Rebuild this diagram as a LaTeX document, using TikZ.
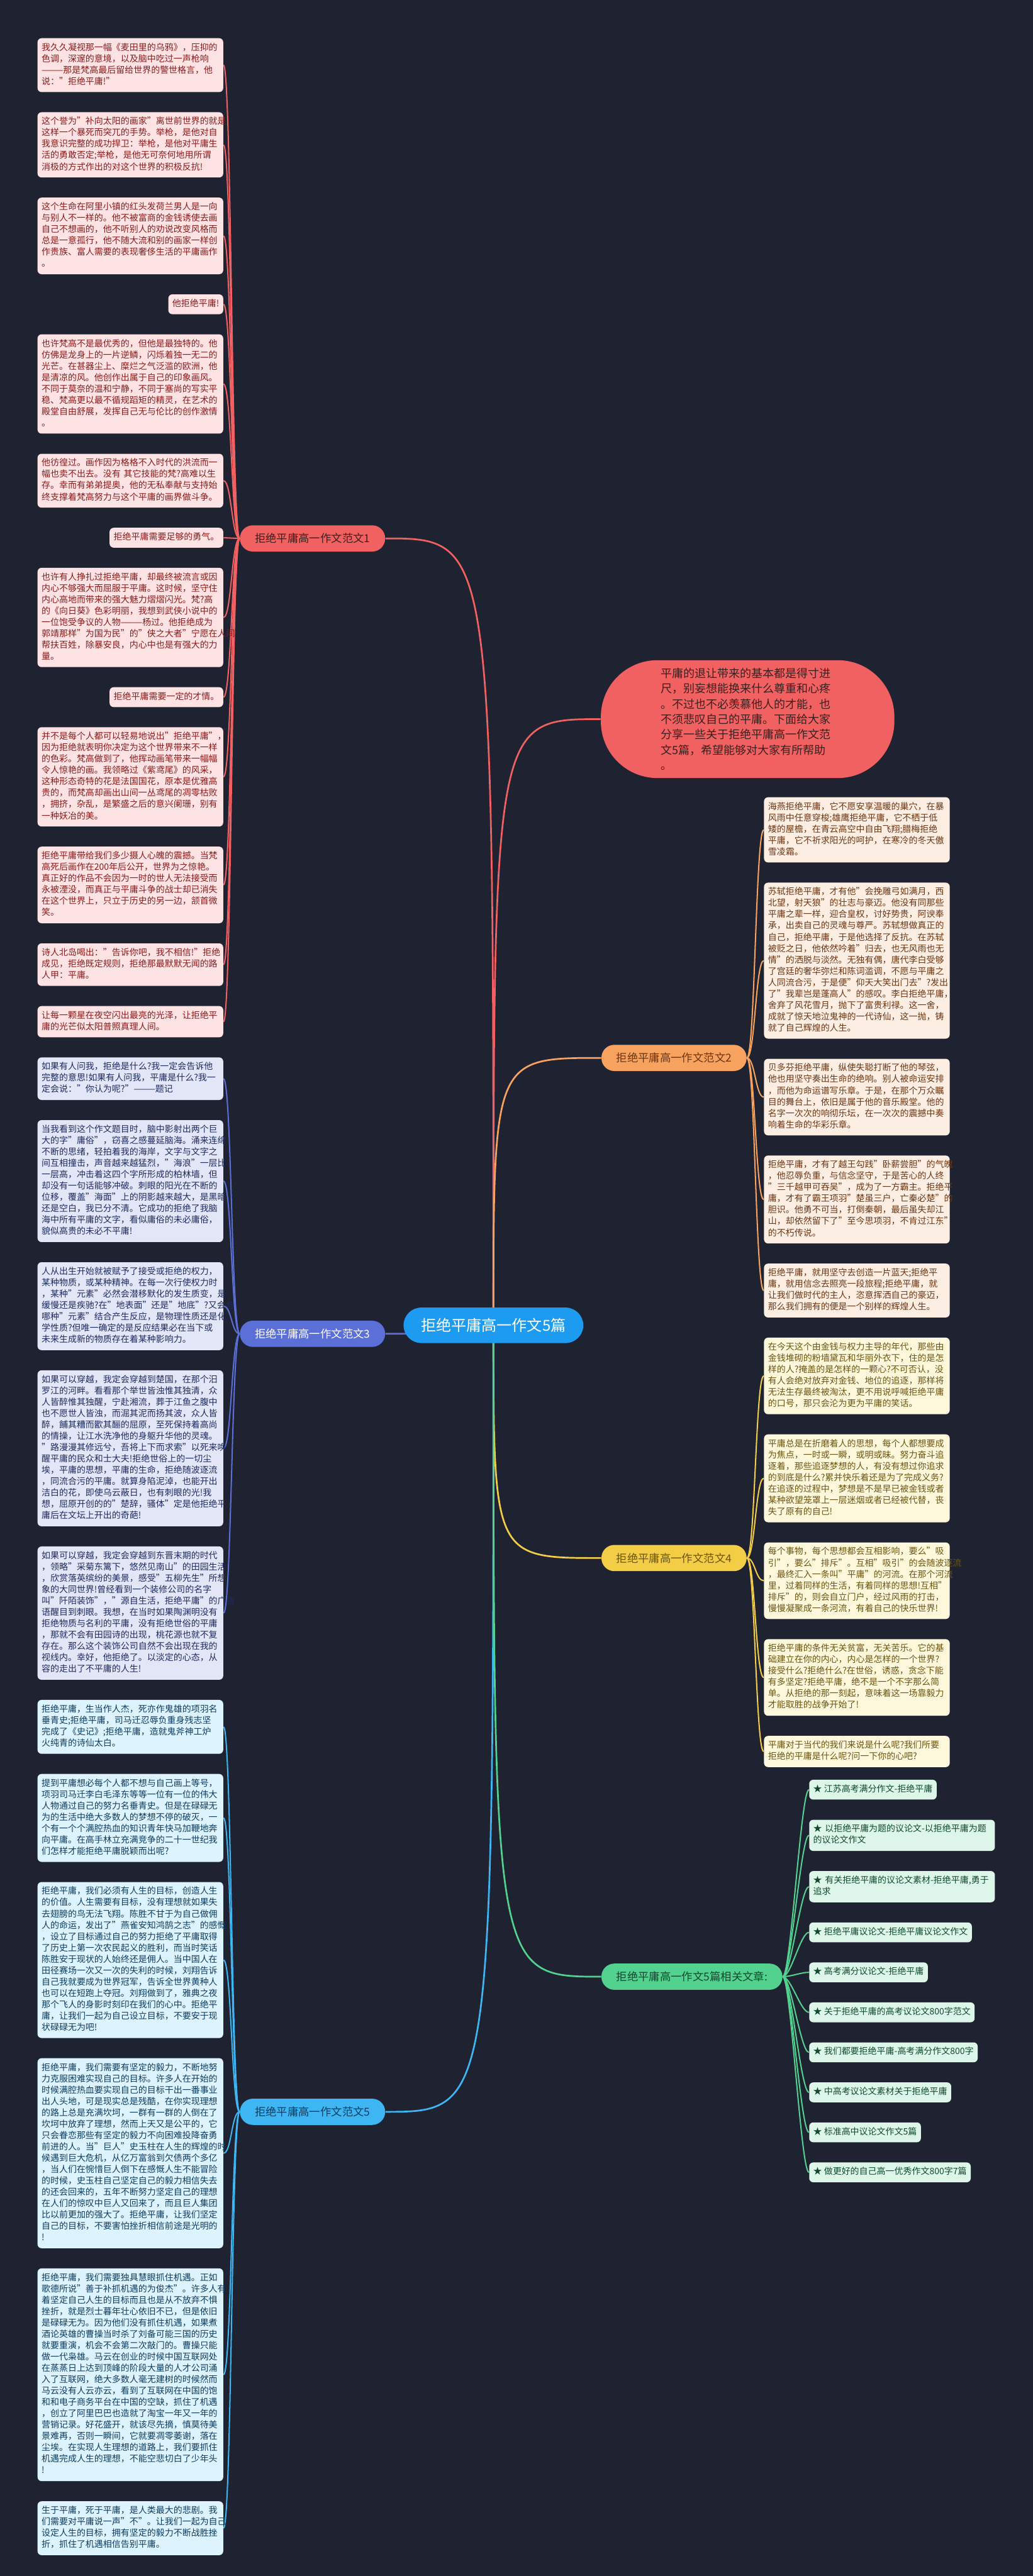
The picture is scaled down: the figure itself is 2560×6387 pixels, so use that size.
\documentclass[tikz,border=0pt]{standalone}
\usepackage{fontspec}
\setmainfont{Noto Sans CJK SC}
\usetikzlibrary{positioning}
\definecolor{bgc}{HTML}{1F2331}
\definecolor{rootc}{HTML}{1D9BF0}
\definecolor{c1}{HTML}{F26161}\definecolor{f1}{HTML}{FDE3E3}\definecolor{t1}{HTML}{8A1C1C}
\definecolor{c2}{HTML}{F7A25E}\definecolor{f2}{HTML}{FDEEE3}\definecolor{t2}{HTML}{6B3612}
\definecolor{c3}{HTML}{5B6FD6}\definecolor{f3}{HTML}{E3E6F7}\definecolor{t3}{HTML}{1E2B5E}
\definecolor{c4}{HTML}{F3CD46}\definecolor{f4}{HTML}{FDF7DB}\definecolor{t4}{HTML}{6B5510}
\definecolor{c5}{HTML}{3DB6F3}\definecolor{f5}{HTML}{DDF3FD}\definecolor{t5}{HTML}{0E3D5F}
\definecolor{c6}{HTML}{52D18F}\definecolor{f6}{HTML}{DEF6EA}\definecolor{t6}{HTML}{0F4A2D}
\definecolor{dark}{HTML}{3A2020}
\pgfdeclarelayer{back}
\pgfsetlayers{back,main}
\tikzstyle{leaf}=[rectangle,rounded corners=0.1cm,align=left,text width=4.4cm,inner xsep=0.1cm,inner ysep=3pt,font=\fontsize{6.2pt}{8pt}\selectfont,execute at begin node={\noindent\strut},execute at end node=\strut]
\tikzstyle{tip}=[rectangle,rounded corners=0.1cm,inner xsep=0.1cm,inner ysep=3pt,font=\fontsize{6.2pt}{8pt}\selectfont,execute at begin node=\strut]
\tikzstyle{rose}=[fill=f1,text=t1]
\tikzstyle{amber}=[fill=f2,text=t2]
\tikzstyle{indigo}=[fill=f3,text=t3]
\tikzstyle{lemon}=[fill=f4,text=t4]
\tikzstyle{sky}=[fill=f5,text=t5]
\tikzstyle{mint}=[fill=f6,text=t6]
\tikzstyle{lcol}=[anchor=north east]
\tikzstyle{rcol}=[anchor=north west]
\tikzstyle{branch}=[rectangle,rounded corners=0.32cm,minimum height=0.65cm,inner xsep=0.37cm,font=\fontsize{7.7pt}{9pt}\selectfont,anchor=west]
\tikzstyle{root}=[rectangle,rounded corners=0.44cm,minimum height=0.88cm,inner xsep=0.43cm,fill=rootc,text=white,font=\fontsize{10.7pt}{12pt}\selectfont]
\tikzstyle{intro}=[rectangle,rounded corners=1.4cm,minimum width=7.27cm,minimum height=2.92cm,text width=4.3cm,align=left,fill=c1,text=dark,font=\fontsize{8pt}{10.8pt}\selectfont]
\tikzstyle{link}=[line width=0.9pt]
\tikzstyle{trunk}=[line width=1.2pt]

\begin{document}
\begin{tikzpicture}[x=0.01cm,y=-0.01cm,node distance=0.485cm]
\useasboundingbox (0,0) rectangle (2560,6387);
\begin{pgfonlayer}{back}
\fill[bgc] (0,0) rectangle (2560,6387);
\end{pgfonlayer}

% centre and branches
\node[root] (root) at (1223,3286) {拒绝平庸高一作文5篇};
\node[branch,fill=c1,text=dark] (b1) at (594,1335) {拒绝平庸高一作文范文1};
\node[branch,fill=c3,text=white] (b3) at (594,3307) {拒绝平庸高一作文范文3};
\node[branch,fill=c5,text=t5] (b5) at (594,5236) {拒绝平庸高一作文范文5};
\node[intro] (intro) at (1853,1783) {平庸的退让带来的基本都是得寸进\\尺，别妄想能换来什么尊重和心疼\\。不过也不必羡慕他人的才能，也\\不须悲叹自己的平庸。下面给大家\\分享一些关于拒绝平庸高一作文范\\文5篇，希望能够对大家有所帮助\\。};
\node[branch,fill=c2,text=t2] (b2) at (1490,2623) {拒绝平庸高一作文范文2};
\node[branch,fill=c4,text=t4] (b4) at (1490,3863) {拒绝平庸高一作文范文4};
\node[branch,fill=c6,text=t6] (b6) at (1490,4901) {拒绝平庸高一作文5篇相关文章:};

% left column
\node[leaf,rose,lcol] (L1) at (554,94) {我久久凝视那一幅《麦田里的乌鸦》，压抑的\\色调，深邃的意境，以及脑中吃过一声枪响\\———那是梵高最后留给世界的警世格言，他\\说："拒绝平庸!"};
\node[leaf,rose,below=of L1.south east,lcol] (L2) {这个誉为"补向太阳的画家"离世前世界的就是\\这样一个暴死而突兀的手势。举枪，是他对自\\我意识完整的成功捍卫：举枪，是他对平庸生\\活的勇敢否定;举枪，是他无可奈何地用所谓\\消极的方式作出的对这个世界的积极反抗!};
\node[leaf,rose,below=of L2.south east,lcol] (L3) {这个生命在阿里小镇的红头发荷兰男人是一向\\与别人不一样的。他不被富商的金钱诱使去画\\自己不想画的，他不听别人的劝说改变风格而\\总是一意孤行，他不随大流和别的画家一样创\\作贵族、富人需要的表现奢侈生活的平庸画作\\。};
\node[tip,rose,below=of L3.south east,lcol] (L4) {他拒绝平庸!};
\node[leaf,rose,below=of L4.south east,lcol] (L5) {也许梵高不是最优秀的，但他是最独特的。他\\仿佛是龙身上的一片逆鳞，闪烁着独一无二的\\光芒。在甚器尘上、糜烂之气泛滥的欧洲，他\\是清凉的风。他创作出属于自己的印象画风。\\不同于莫奈的温和宁静，不同于塞尚的写实平\\稳、梵高更以最不循规蹈矩的精灵，在艺术的\\殿堂自由舒展，发挥自己无与伦比的创作激情\\。};
\node[leaf,rose,below=of L5.south east,lcol] (L6) {他彷徨过。画作因为格格不入时代的洪流而一\\幅也卖不出去。没有 其它技能的梵?高难以生\\存。幸而有弟弟提奥，他的无私奉献与支持始\\终支撑着梵高努力与这个平庸的画界做斗争。};
\node[tip,rose,below=of L6.south east,lcol] (L7) {拒绝平庸需要足够的勇气。};
\node[leaf,rose,below=of L7.south east,lcol] (L8) {也许有人挣扎过拒绝平庸，却最终被流言或因\\内心不够强大而屈服于平庸。这时候，坚守住\\内心高地而带来的强大魅力熠熠闪光。梵?高\\的《向日葵》色彩明丽，我想到武侠小说中的\\一位饱受争议的人物———杨过。他拒绝成为\\郭靖那样"为国为民"的"侠之大者"宁愿在人间\\帮扶百姓，除暴安良，内心中也是有强大的力\\量。};
\node[tip,rose,below=of L8.south east,lcol] (L9) {拒绝平庸需要一定的才情。};
\node[leaf,rose,below=of L9.south east,lcol] (L10) {并不是每个人都可以轻易地说出"拒绝平庸"，\\因为拒绝就表明你决定为这个世界带来不一样\\的色彩。梵高做到了，他挥动画笔带来一幅幅\\令人惊艳的画。我领略过《紫鸢尾》的风采，\\这种形态奇特的花是法国国花，原本是优雅高\\贵的，而梵高却画出山间一丛鸢尾的凋零枯败\\，拥挤，杂乱，是繁盛之后的意兴阑珊，别有\\一种妖冶的美。};
\node[leaf,rose,below=of L10.south east,lcol] (L11) {拒绝平庸带给我们多少摄人心魄的震撼。当梵\\高死后画作在200年后公开，世界为之惊艳。\\真正好的作品不会因为一时的世人无法接受而\\永被湮没，而真正与平庸斗争的战士却已消失\\在这个世界上，只立于历史的另一边，颔首微\\笑。};
\node[leaf,rose,below=of L11.south east,lcol] (L12) {诗人北岛喝出："告诉你吧，我不相信!"拒绝\\成见，拒绝既定规则，拒绝那最默默无闻的路\\人甲：平庸。};
\node[leaf,rose,below=of L12.south east,lcol] (L13) {让每一颗星在夜空闪出最亮的光泽，让拒绝平\\庸的光芒似太阳普照真理人间。};
\node[leaf,indigo,below=of L13.south east,lcol] (M1) {如果有人问我，拒绝是什么?我一定会告诉他\\完整的意思!如果有人问我，平庸是什么?我一\\定会说："你认为呢?"———题记};
\node[leaf,indigo,below=of M1.south east,lcol] (M2) {当我看到这个作文题目时，脑中影射出两个巨\\大的字"庸俗"，窃喜之感蔓延脑海。涌来连绵\\不断的思绪，轻拍着我的海岸，文字与文字之\\间互相撞击，声音越来越猛烈，"海浪"一层比\\一层高，冲击着这四个字所形成的柏林墙，但\\却没有一句话能够冲破。刺眼的阳光在不断的\\位移，覆盖"海面"上的阴影越来越大，是黑暗\\还是空白，我已分不清。它成功的拒绝了我脑\\海中所有平庸的文字，看似庸俗的未必庸俗，\\貌似高贵的未必不平庸!};
\node[leaf,indigo,below=of M2.south east,lcol] (M3) {人从出生开始就被赋予了接受或拒绝的权力，\\某种物质，或某种精神。在每一次行使权力时\\，某种"元素"必然会潜移默化的发生质变，是\\缓慢还是疾驰?在"地表面"还是"地底"?又会与\\哪种"元素"结合产生反应，是物理性质还是化\\学性质?但唯一确定的是反应结果必在当下或\\未来生成新的物质存在着某种影响力。};
\node[leaf,indigo,below=of M3.south east,lcol] (M4) {如果可以穿越，我定会穿越到楚国，在那个汨\\罗江的河畔。看看那个举世皆浊惟其独清，众\\人皆醉惟其独醒，宁赴湘流，葬于江鱼之腹中\\也不愿世人皆浊，而淈其泥而扬其波，众人皆\\醉，餔其糟而歠其酾的屈原，至死保持着高尚\\的情操，让江水洗净他的身躯升华他的灵魂。\\"路漫漫其修远兮，吾将上下而求索"以死来唤\\醒平庸的民众和士大夫!拒绝世俗上的一切尘\\埃，平庸的思想，平庸的生命，拒绝随波逐流\\，同流合污的平庸。就算身陷泥淖，也能开出\\洁白的花，即使乌云蔽日，也有刺眼的光!我\\想，屈原开创的的"楚辞，骚体"定是他拒绝平\\庸后在文坛上开出的奇葩!};
\node[leaf,indigo,below=of M4.south east,lcol] (M5) {如果可以穿越，我定会穿越到东晋末期的时代\\，领略"采菊东篱下，悠然见南山"的田园生活\\，欣赏落英缤纷的美景，感受"五柳先生"所想\\象的大同世界!曾经看到一个装修公司的名字\\叫"阡陌装饰"，"源自生活，拒绝平庸"的广告\\语醒目到刺眼。我想，在当时如果陶渊明没有\\拒绝物质与名利的平庸，没有拒绝世俗的平庸\\，那就不会有田园诗的出现，桃花源也就不复\\存在。那么这个装饰公司自然不会出现在我的\\视线内。幸好，他拒绝了。以淡定的心态，从\\容的走出了不平庸的人生!};
\node[leaf,sky,below=of M5.south east,lcol] (N1) {拒绝平庸，生当作人杰，死亦作鬼雄的项羽名\\垂青史;拒绝平庸，司马迁忍辱负重身残志坚\\完成了《史记》;拒绝平庸，造就鬼斧神工炉\\火纯青的诗仙太白。};
\node[leaf,sky,below=of N1.south east,lcol] (N2) {提到平庸想必每个人都不想与自己画上等号，\\项羽司马迁李白毛泽东等等一位有一位的伟大\\人物通过自己的努力名垂青史。但是在碌碌无\\为的生活中绝大多数人的梦想不停的破灭，一\\个有一个个满腔热血的知识青年快马加鞭地奔\\向平庸。在高手林立充满竞争的二十一世纪我\\们怎样才能拒绝平庸脱颖而出呢?};
\node[leaf,sky,below=of N2.south east,lcol] (N3) {拒绝平庸，我们必须有人生的目标，创造人生\\的价值。人生需要有目标，没有理想就如果失\\去翅膀的鸟无法飞翔。陈胜不甘于为自己做佣\\人的命运，发出了"燕雀安知鸿鹄之志"的感慨\\，设立了目标通过自己的努力拒绝了平庸取得\\了历史上第一次农民起义的胜利，而当时笑话\\陈胜安于现状的人始终还是佣人。当中国人在\\田径赛场一次又一次的失利的时候，刘翔告诉\\自己我就要成为世界冠军，告诉全世界黄种人\\也可以在短跑上夺冠。刘翔做到了，雅典之夜\\那个飞人的身影时刻印在我们的心中。拒绝平\\庸，让我们一起为自己设立目标，不要安于现\\状碌碌无为吧!};
\node[leaf,sky,below=of N3.south east,lcol] (N4) {拒绝平庸，我们需要有坚定的毅力，不断地努\\力克服困难实现自己的目标。许多人在开始的\\时候满腔热血要实现自己的目标干出一番事业\\出人头地，可是现实总是残酷，在你实现理想\\的路上总是充满坎坷，一群有一群的人倒在了\\坎坷中放弃了理想，然而上天又是公平的，它\\只会眷恋那些有坚定的毅力不向困难投降奋勇\\前进的人。当"巨人"史玉柱在人生的辉煌的时\\候遇到巨大危机，从亿万富翁到欠债两个多亿\\，当人们在惋惜巨人倒下在感慨人生不能冒险\\的时候，史玉柱自己坚定自己的毅力相信失去\\的还会回来的，五年不断努力坚定自己的理想\\在人们的惊叹中巨人又回来了，而且巨人集团\\比以前更加的强大了。拒绝平庸，让我们坚定\\自己的目标，不要害怕挫折相信前途是光明的\\!};
\node[leaf,sky,below=of N4.south east,lcol] (N5) {拒绝平庸，我们需要独具慧眼抓住机遇。正如\\歌德所说"善于补抓机遇的为俊杰"。许多人有\\着坚定自己人生的目标而且也是从不放弃不惧\\挫折，就是烈士暮年壮心依旧不已，但是依旧\\是碌碌无为。因为他们没有抓住机遇，如果煮\\酒论英雄的曹操当时杀了刘备可能三国的历史\\就要重演，机会不会第二次敲门的。曹操只能\\做一代枭雄。马云在创业的时候中国互联网处\\在蒸蒸日上达到顶峰的阶段大量的人才公司涌\\入了互联网，绝大多数人毫无建树的时候然而\\马云没有人云亦云，看到了互联网在中国的饱\\和和电子商务平台在中国的空缺，抓住了机遇\\，创立了阿里巴巴也造就了淘宝一年又一年的\\营销记录。好花盛开，就该尽先摘，慎莫待美\\景难再，否则一瞬间，它就要凋零萎谢，落在\\尘埃。在实现人生理想的道路上，我们要抓住\\机遇完成人生的理想，不能空悲切白了少年头\\!};
\node[leaf,sky,below=of N5.south east,lcol] (N6) {生于平庸，死于平庸，是人类最大的悲剧。我\\们需要对平庸说一声"不"。让我们一起为自己\\设定人生的目标，拥有坚定的毅力不断战胜挫\\折，抓住了机遇相信告别平庸。};

% right column
\node[leaf,amber,rcol] (R1) at (1893,1976) {海燕拒绝平庸，它不愿安享温暖的巢穴，在暴\\风雨中任意穿梭;雄鹰拒绝平庸，它不栖于低\\矮的屋檐，在青云高空中自由飞翔;腊梅拒绝\\平庸，它不祈求阳光的呵护，在寒冷的冬天傲\\雪凌霜。};
\node[leaf,amber,below=of R1.south west,rcol] (R2) {苏轼拒绝平庸，才有他"会挽雕弓如满月，西\\北望，射天狼"的壮志与豪迈。他没有同那些\\平庸之辈一样，迎合皇权，讨好势贵，阿谀奉\\承，出卖自己的灵魂与尊严。苏轼想做真正的\\自己，拒绝平庸，于是他选择了反抗。在苏轼\\被贬之日，他依然吟着"归去，也无风雨也无\\情"的洒脱与淡然。无独有偶，唐代李白受够\\了宫廷的奢华弥烂和陈词滥调，不愿与平庸之\\人同流合污，于是便"仰天大笑出门去"?发出\\了"我辈岂是蓬高人"的感叹。李白拒绝平庸，\\舍弃了风花雪月，抛下了富贵利禄。这一舍，\\成就了惊天地泣鬼神的一代诗仙，这一抛，铸\\就了自己辉煌的人生。};
\node[leaf,amber,below=of R2.south west,rcol] (R3) {贝多芬拒绝平庸，纵使失聪打断了他的琴弦，\\他也用坚守奏出生命的绝响。别人被命运安排\\，而他为命运谱写乐章。于是，在那个万众瞩\\目的舞台上，依旧是属于他的音乐殿堂。他的\\名字一次次的响彻乐坛，在一次次的震撼中奏\\响着生命的华彩乐章。};
\node[leaf,amber,below=of R3.south west,rcol] (R4) {拒绝平庸，才有了越王勾践"卧薪尝胆"的气魄\\，他忍辱负重，与信念坚守，于是苦心的人终\\"三千越甲可吞吴"，成为了一方霸主。拒绝平\\庸，才有了霸王项羽"楚虽三户，亡秦必楚"的\\胆识。他勇不可当，打倒秦朝，最后虽失却江\\山，却依然留下了"至今思项羽，不肯过江东"\\的不朽传说。};
\node[leaf,amber,below=of R4.south west,rcol] (R5) {拒绝平庸，就用坚守去创造一片蓝天;拒绝平\\庸，就用信念去照亮一段旅程;拒绝平庸，就\\让我们做时代的主人，恣意挥洒自己的豪迈，\\那么我们拥有的便是一个别样的辉煌人生。};
\node[leaf,lemon,below=of R5.south west,rcol] (Y1) {在今天这个由金钱与权力主导的年代，那些由\\金钱堆砌的粉墙黛瓦和华丽外衣下，住的是怎\\样的人?掩盖的是怎样的一颗心?不可否认，没\\有人会绝对放弃对金钱、地位的追逐，那样将\\无法生存最终被淘汰，更不用说呼喊拒绝平庸\\的口号，那只会沦为更为平庸的笑话。};
\node[leaf,lemon,below=of Y1.south west,rcol] (Y2) {平庸总是在折磨着人的思想，每个人都想要成\\为焦点，一时或一瞬，或明或昧。努力奋斗追\\逐着，那些追逐梦想的人，有没有想过你追求\\的到底是什么?累并快乐着还是为了完成义务?\\在追逐的过程中，梦想是不是早已被金钱或者\\某种欲望笼罩上一层迷烟或者已经被代替，丧\\失了原有的自己!};
\node[leaf,lemon,below=of Y2.south west,rcol] (Y3) {每个事物，每个思想都会互相影响，要么"吸\\引"，要么"排斥"。互相"吸引"的会随波逐流\\，最终汇入一条叫"平庸"的河流。在那个河流\\里，过着同样的生活，有着同样的思想!互相"\\排斥"的，则会自立门户，经过风雨的打击，\\慢慢凝聚成一条河流，有着自己的快乐世界!};
\node[leaf,lemon,below=of Y3.south west,rcol] (Y4) {拒绝平庸的条件无关贫富，无关苦乐。它的基\\础建立在你的内心，内心是怎样的一个世界?\\接受什么?拒绝什么?在世俗，诱惑，贪念下能\\有多坚定?拒绝平庸，绝不是一个不字那么简\\单。从拒绝的那一刻起，意味着这一场靠毅力\\才能取胜的战争开始了!};
\node[leaf,lemon,below=of Y4.south west,rcol] (Y5) {平庸对于当代的我们来说是什么呢?我们所要\\拒绝的平庸是什么呢?问一下你的心吧?};

% related articles
\node[tip,mint,rcol] (G1) at (2005,4412) {★ 江苏高考满分作文-拒绝平庸};
\node[leaf,mint,below=of G1.south west,rcol] (G2) {★ 以拒绝平庸为题的议论文-以拒绝平庸为题\\的议论文作文};
\node[leaf,mint,below=of G2.south west,rcol] (G3) {★ 有关拒绝平庸的议论文素材-拒绝平庸,勇于\\追求};
\node[tip,mint,below=of G3.south west,rcol] (G4) {★ 拒绝平庸议论文-拒绝平庸议论文作文};
\node[tip,mint,below=of G4.south west,rcol] (G5) {★ 高考满分议论文-拒绝平庸};
\node[tip,mint,below=of G5.south west,rcol] (G6) {★ 关于拒绝平庸的高考议论文800字范文};
\node[tip,mint,below=of G6.south west,rcol] (G7) {★ 我们都要拒绝平庸-高考满分作文800字};
\node[tip,mint,below=of G7.south west,rcol] (G8) {★ 中高考议论文素材关于拒绝平庸};
\node[tip,mint,below=of G8.south west,rcol] (G9) {★ 标准高中议论文作文5篇};
\node[tip,mint,below=of G9.south west,rcol] (G10) {★ 做更好的自己高一优秀作文800字7篇};

% connectors
\begin{pgfonlayer}{back}
\foreach \n in {1,...,13} \draw[link,c1] (b1.west) .. controls +(-20,0) and +(20,0) .. (L\n.east);
\foreach \n in {1,...,5} \draw[link,c3] (b3.west) .. controls +(-20,0) and +(20,0) .. (M\n.east);
\foreach \n in {1,...,6} \draw[link,c5] (b5.west) .. controls +(-20,0) and +(20,0) .. (N\n.east);
\foreach \n in {1,...,5} \draw[link,c2] (b2.east) .. controls +(20,0) and +(-20,0) .. (R\n.west);
\foreach \n in {1,...,5} \draw[link,c4] (b4.east) .. controls +(20,0) and +(-20,0) .. (Y\n.west);
\foreach \n in {1,...,10} \draw[link,c6] (b6.east) .. controls +(20,0) and +(-20,0) .. (G\n.west);
\draw[trunk,c1] (root.center) .. controls (root.center |- b1.east) .. (b1.east);
\draw[trunk,c3] (root.center) .. controls (root.center |- b3.east) .. (b3.east);
\draw[trunk,c5] (root.center) .. controls (root.center |- b5.east) .. (b5.east);
\draw[trunk,c1] (root.center) .. controls (root.center |- intro.west) .. (intro.west);
\draw[trunk,c2] (root.center) .. controls (root.center |- b2.west) .. (b2.west);
\draw[trunk,c4] (root.center) .. controls (root.center |- b4.west) .. (b4.west);
\draw[trunk,c6] (root.center) .. controls (root.center |- b6.west) .. (b6.west);
\end{pgfonlayer}
\end{tikzpicture}
\end{document}
